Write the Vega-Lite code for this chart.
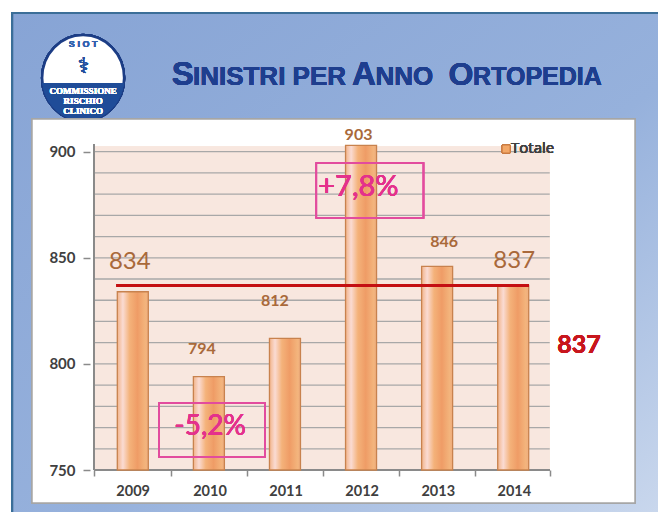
{
  "$schema": "https://vega.github.io/schema/vega-lite/v6.json",
  "width": 613,
  "height": 384,
  "autosize": {"type": "none"},
  "padding": {"left": 27, "top": 119, "right": 18, "bottom": 9},
  "background": "white",
  "config": {"view": {"stroke": null}},
  "data": {"values": [
    {"Anno": 2009, "Totale": 834},
    {"Anno": 2010, "Totale": 794},
    {"Anno": 2011, "Totale": 812},
    {"Anno": 2012, "Totale": 903},
    {"Anno": 2013, "Totale": 846},
    {"Anno": 2014, "Totale": 837}
  ]},
  "layer": [
    {
      "mark": {"type": "rect", "fill": {"gradient": "linear", "x1": 0, "y1": 0, "x2": 1, "y2": 1, "stops": [{"offset": 0, "color": "#87a4d5"}, {"offset": 0.55, "color": "#96b1dc"}, {"offset": 1, "color": "#cddaee"}]}, "stroke": "#3b6e98", "strokeWidth": 2},
      "encoding": {"x": {"datum": 2007.416}, "x2": {"datum": 2016.3}, "y": {"datum": 965.36}, "y2": {"datum": 725}}
    },
    {
      "mark": {"type": "point", "shape": "M-1,0A1,1.05,0,1,1,1,0A1,1.05,0,1,1,-1,0Z", "size": 6724, "filled": true, "fill": "#ffffff", "stroke": "#1c3d85", "strokeWidth": 2.5, "opacity": 1, "fillOpacity": 1},
      "encoding": {"x": {"datum": 2008.347}, "y": {"datum": 934.73}}
    },
    {
      "mark": {"type": "point", "shape": "M-0.993,0.12L0.993,0.12A1,1.05,0,0,1,-0.993,0.12Z", "size": 6724, "filled": true, "fill": "#1f4c98", "strokeWidth": 0, "opacity": 1, "fillOpacity": 1},
      "encoding": {"x": {"datum": 2008.347}, "y": {"datum": 934.73}}
    },
    {
      "mark": {"type": "text", "text": "⚕", "font": "DejaVu Sans", "fontSize": 22, "fontWeight": "bold", "color": "#24509e", "baseline": "middle", "align": "center"},
      "encoding": {"x": {"datum": 2008.347}, "y": {"datum": 940.6}}
    },
    {
      "mark": {"type": "text", "text": "S I O T", "font": "Liberation Sans", "fontSize": 9, "fontWeight": "bold", "color": "#3363b0", "baseline": "middle", "align": "center"},
      "encoding": {"x": {"datum": 2008.347}, "y": {"datum": 950.8}}
    },
    {
      "mark": {"type": "text", "text": "COMMISSIONE", "font": "Liberation Sans Narrow", "fontSize": 9, "fontWeight": "bold", "color": "#ffffff", "baseline": "middle", "align": "center"},
      "encoding": {"x": {"datum": 2008.347}, "y": {"datum": 928.6}}
    },
    {
      "mark": {"type": "text", "text": "RISCHIO", "font": "Liberation Sans Narrow", "fontSize": 9, "fontWeight": "bold", "color": "#ffffff", "baseline": "middle", "align": "center"},
      "encoding": {"x": {"datum": 2008.347}, "y": {"datum": 923.9}}
    },
    {
      "mark": {"type": "text", "text": "CLINICO", "font": "Liberation Sans Narrow", "fontSize": 9, "fontWeight": "bold", "color": "#ffffff", "baseline": "middle", "align": "center"},
      "encoding": {"x": {"datum": 2008.347}, "y": {"datum": 919.2}}
    },
    {
      "mark": {"type": "text", "text": "S", "font": "Liberation Sans", "fontSize": 33, "fontWeight": "bold", "color": "#1e3e8e", "baseline": "alphabetic", "align": "left"},
      "encoding": {"x": {"datum": 2009.511}, "y": {"datum": 931.43}}
    },
    {
      "mark": {"type": "text", "text": "INISTRI PER", "font": "Liberation Sans", "fontSize": 26, "fontWeight": "bold", "color": "#1e3e8e", "baseline": "alphabetic", "align": "left"},
      "encoding": {"x": {"datum": 2009.79}, "y": {"datum": 931.43}}
    },
    {
      "mark": {"type": "text", "text": "A", "font": "Liberation Sans", "fontSize": 33, "fontWeight": "bold", "color": "#1e3e8e", "baseline": "alphabetic", "align": "left"},
      "encoding": {"x": {"datum": 2011.88}, "y": {"datum": 931.43}}
    },
    {
      "mark": {"type": "text", "text": "NNO", "font": "Liberation Sans", "fontSize": 26, "fontWeight": "bold", "color": "#1e3e8e", "baseline": "alphabetic", "align": "left"},
      "encoding": {"x": {"datum": 2012.19}, "y": {"datum": 931.43}}
    },
    {
      "mark": {"type": "text", "text": "O", "font": "Liberation Sans", "fontSize": 32, "fontWeight": "bold", "color": "#1e3e8e", "baseline": "alphabetic", "align": "left"},
      "encoding": {"x": {"datum": 2013.15}, "y": {"datum": 931.43}}
    },
    {
      "mark": {"type": "text", "text": "RTOPEDIA", "font": "Liberation Sans", "fontSize": 25, "fontWeight": "bold", "color": "#1e3e8e", "baseline": "alphabetic", "align": "left"},
      "encoding": {"x": {"datum": 2013.473}, "y": {"datum": 931.43}}
    },
    {
      "mark": {"type": "rect", "fill": "#ffffff", "stroke": "#a6a6a6", "strokeWidth": 1.5},
      "encoding": {"x": {"datum": 2007.675}, "x2": {"datum": 2015.601}, "y": {"datum": 734.45}, "y2": {"datum": 915.41}}
    },
    {
      "mark": {"type": "rect", "fill": "#f8e7df"},
      "encoding": {"x": {"datum": 2008.49}, "x2": {"datum": 2014.48}, "y": {"datum": 750}, "y2": {"datum": 902.5}}
    },
    {
      "data": {"values": [{"g": 760}, {"g": 770}, {"g": 780}, {"g": 790}, {"g": 800}, {"g": 810}, {"g": 820}, {"g": 830}, {"g": 840}, {"g": 850}, {"g": 860}, {"g": 870}, {"g": 880}, {"g": 890}, {"g": 900}]},
      "mark": {"type": "rule", "color": "#a8a8a8", "strokeWidth": 1.3},
      "encoding": {"x": {"datum": 2008.49}, "x2": {"datum": 2014.48}, "y": {"field": "g", "type": "quantitative"}}
    },
    {
      "mark": {"type": "rule", "color": "#8a8a8a", "strokeWidth": 1.5},
      "encoding": {"x": {"datum": 2008.49}, "y": {"datum": 750}, "y2": {"datum": 903.5}}
    },
    {
      "mark": {"type": "rule", "color": "#8a8a8a", "strokeWidth": 1.5},
      "encoding": {"x": {"datum": 2008.49}, "x2": {"datum": 2014.48}, "y": {"datum": 750}}
    },
    {
      "mark": {"type": "bar", "size": 31, "fill": {"gradient": "linear", "x1": 0, "y1": 0, "x2": 1, "y2": 0, "stops": [{"offset": 0, "color": "#f2b48a"}, {"offset": 0.18, "color": "#fadbd3"}, {"offset": 0.4, "color": "#f4b27a"}, {"offset": 0.65, "color": "#ef9c66"}, {"offset": 0.9, "color": "#f3b47c"}, {"offset": 1, "color": "#efae80"}]}, "stroke": "#c8824e", "strokeWidth": 1.3},
      "encoding": {
        "x": {"field": "Anno", "type": "quantitative", "scale": {"domain": [2007.675, 2015.601], "nice": false, "zero": false},
          "axis": {"title": null, "zindex": 1, "values": [2008.49, 2009.5, 2010.5, 2011.5, 2012.5, 2013.5, 2014.48], "labelExpr": "datum.value < 2014 ? format(round(datum.value + 0.5), 'd') : ''", "labelOffset": 38.67, "offset": -33, "domain": false, "grid": false, "ticks": true, "tickSize": 6, "tickColor": "#8a8a8a", "tickWidth": 1.5, "labelPadding": 8, "labelFont": "Lato", "labelFontSize": 14.5, "labelFontWeight": "bold", "labelColor": "#404040"}},
        "y": {"field": "Totale", "type": "quantitative", "scale": {"domain": [734.45, 915.41], "nice": false, "zero": false},
          "axis": {"title": null, "zindex": 1, "values": [750, 800, 850, 900], "offset": -63, "domain": false, "grid": false, "tickSize": 7, "tickColor": "#8a8a8a", "tickWidth": 1.5, "labelPadding": 8, "labelFont": "Lato", "labelFontSize": 15, "labelFontWeight": "bold", "labelColor": "#404040"}},
        "y2": {"datum": 750}
      }
    },
    {
      "mark": {"type": "rule", "color": "#c40f12", "strokeWidth": 3},
      "encoding": {"x": {"datum": 2008.787}, "x2": {"datum": 2014.205}, "y": {"datum": 837}}
    },
    {
      "transform": [{"filter": "datum.Anno == 2009"}],
      "mark": {"type": "text", "font": "Lato", "fontSize": 24, "color": "#a9693a", "baseline": "middle", "dx": -3, "dy": -30},
      "encoding": {"x": {"field": "Anno", "type": "quantitative"}, "y": {"field": "Totale", "type": "quantitative"}, "text": {"field": "Totale", "type": "quantitative"}}
    },
    {
      "transform": [{"filter": "datum.Anno == 2010"}],
      "mark": {"type": "text", "font": "Lato", "fontSize": 16, "fontWeight": "bold", "color": "#a9693a", "baseline": "middle", "dx": -7, "dy": -28},
      "encoding": {"x": {"field": "Anno", "type": "quantitative"}, "y": {"field": "Totale", "type": "quantitative"}, "text": {"field": "Totale", "type": "quantitative"}}
    },
    {
      "transform": [{"filter": "datum.Anno == 2011"}],
      "mark": {"type": "text", "font": "Lato", "fontSize": 16, "fontWeight": "bold", "color": "#a9693a", "baseline": "middle", "dx": -10, "dy": -37},
      "encoding": {"x": {"field": "Anno", "type": "quantitative"}, "y": {"field": "Totale", "type": "quantitative"}, "text": {"field": "Totale", "type": "quantitative"}}
    },
    {
      "transform": [{"filter": "datum.Anno == 2012"}],
      "mark": {"type": "text", "font": "Lato", "fontSize": 16, "fontWeight": "bold", "color": "#a9693a", "baseline": "middle", "dx": -2.5, "dy": -10.5},
      "encoding": {"x": {"field": "Anno", "type": "quantitative"}, "y": {"field": "Totale", "type": "quantitative"}, "text": {"field": "Totale", "type": "quantitative"}}
    },
    {
      "transform": [{"filter": "datum.Anno == 2013"}],
      "mark": {"type": "text", "font": "Lato", "fontSize": 16, "fontWeight": "bold", "color": "#a9693a", "baseline": "middle", "dx": 7, "dy": -24},
      "encoding": {"x": {"field": "Anno", "type": "quantitative"}, "y": {"field": "Totale", "type": "quantitative"}, "text": {"field": "Totale", "type": "quantitative"}}
    },
    {
      "transform": [{"filter": "datum.Anno == 2014"}],
      "mark": {"type": "text", "font": "Lato", "fontSize": 24, "color": "#a9693a", "baseline": "middle", "dx": 1, "dy": -24},
      "encoding": {"x": {"field": "Anno", "type": "quantitative"}, "y": {"field": "Totale", "type": "quantitative"}, "text": {"field": "Totale", "type": "quantitative"}}
    },
    {
      "mark": {"type": "text", "text": "837", "font": "Lato", "fontSize": 25, "fontWeight": "bold", "color": "#c8161d", "baseline": "middle", "align": "center"},
      "encoding": {"x": {"datum": 2014.864}, "y": {"datum": 808.9}}
    },
    {
      "mark": {"type": "rect", "fill": null, "fillOpacity": 0, "stroke": "#e24c9e", "strokeWidth": 1.5},
      "encoding": {"x": {"datum": 2011.412}, "x2": {"datum": 2012.821}, "y": {"datum": 894.67}, "y2": {"datum": 868.76}}
    },
    {
      "mark": {"type": "text", "text": "+7,8%", "font": "Lato", "fontSize": 29, "color": "#e4318c", "baseline": "middle", "align": "left"},
      "encoding": {"x": {"datum": 2011.438}, "y": {"datum": 883.37}}
    },
    {
      "mark": {"type": "rect", "fill": null, "fillOpacity": 0, "stroke": "#e24c9e", "strokeWidth": 1.5},
      "encoding": {"x": {"datum": 2009.343}, "x2": {"datum": 2010.739}, "y": {"datum": 781.57}, "y2": {"datum": 756.12}}
    },
    {
      "mark": {"type": "text", "text": "-5,2%", "font": "Lato", "fontSize": 28, "color": "#e4318c", "baseline": "middle", "align": "center"},
      "encoding": {"x": {"datum": 2010.016}, "y": {"datum": 770.03}}
    },
    {
      "mark": {"type": "point", "shape": "square", "size": 64, "filled": true, "fill": "#f3a868", "stroke": "#c97a40", "strokeWidth": 1, "opacity": 1, "fillOpacity": 1},
      "encoding": {"x": {"datum": 2013.907}, "y": {"datum": 901.27}}
    },
    {
      "mark": {"type": "text", "text": "Totale", "font": "Open Sans", "fontSize": 15, "color": "#404040", "baseline": "middle", "align": "left"},
      "encoding": {"x": {"datum": 2013.972}, "y": {"datum": 901.74}}
    }
  ]
}
